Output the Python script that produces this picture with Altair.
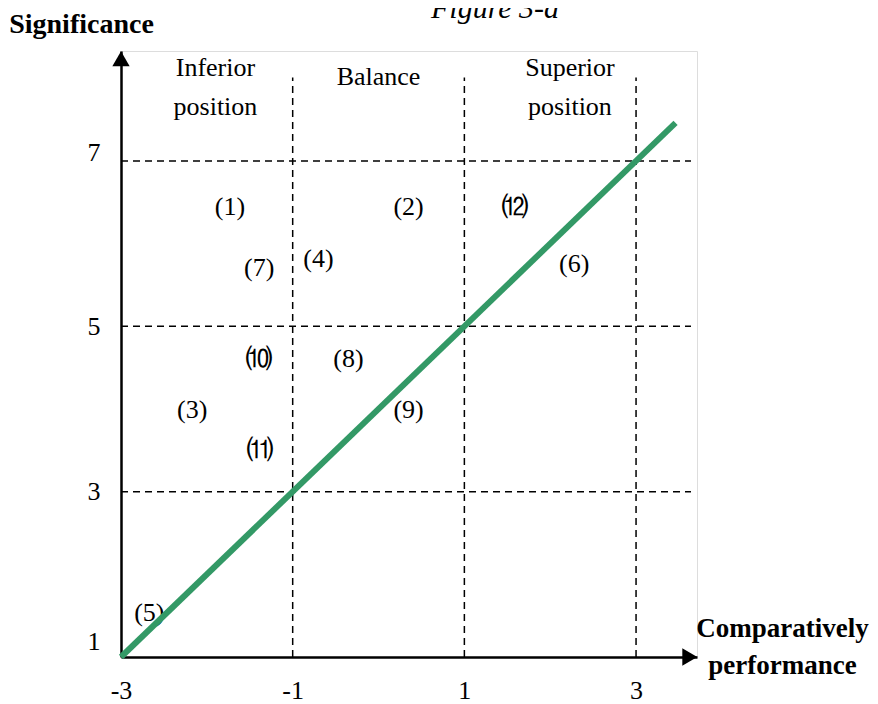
import altair as alt
import pandas as pd

# ---- data ----
point_labels = ["(1)", "(2)", "(3)", "(4)", "(5)", "(6)", "(7)", "(8)", "(9)", "⑽", "⑾", "⑿"]
point_x = [-1.73, 0.35, -2.17, -0.70, -2.67, 2.28, -1.39, -0.35, 0.35, -1.39, -1.38, 1.59]
point_y = [6.44, 6.44, 3.99, 5.82, 1.53, 5.75, 5.70, 4.60, 3.99, 4.60, 3.50, 6.44]

region_labels = ["Inferior\nposition", "Balance", "Superior\nposition"]
region_x = [-1.90, 0.0, 2.23]
region_y = [8.12, 8.01, 8.12]

h_grid_y = [3, 5, 7]
h_grid_x0 = [-3, -3, -3]
h_grid_x1 = [3.64, 3.64, 3.64]
v_grid_x = [-1, 1, 3]
v_grid_y0 = [1, 1, 1]
v_grid_y1 = [8.01, 8.01, 8.01]

diag_x = [-3, 3.46]
diag_y = [1, 7.46]

arrow_x = [3.626, -3.0]
arrow_y = [1.0, 8.237]
arrow_shape = ["triangle-right", "triangle-up"]

x_ticks = [-3, -1, 1, 3]
y_ticks = [1, 3, 5, 7]
x_domain = [-3, 3.71]
y_domain = [1, 8.33]

FONT = "Liberation Serif"

xs = alt.Scale(domain=x_domain, nice=False, zero=False)
ys = alt.Scale(domain=y_domain, nice=False, zero=False)

xaxis = alt.Axis(
    values=x_ticks, labelExpr="toString(datum.value)", ticks=False, grid=False,
    domainColor="black", domainWidth=2.5, labelColor="black", labelFont=FONT,
    labelFontSize=26, labelPadding=20, labelFlush=False, labelOverlap=False,
    title=["Comparatively", "performance"], titleAngle=0, titleX=661, titleY=-29,
    titleAlign="center", titleBaseline="middle", titleFont=FONT, titleFontSize=27,
    titleFontWeight="bold", titleColor="black", titleLineHeight=37,
)
yaxis = alt.Axis(
    values=y_ticks, labelExpr="toString(datum.value)", ticks=False, grid=False,
    domainColor="black", domainWidth=2.5, labelColor="black", labelFont=FONT,
    labelFontSize=26, labelPadding=21, labelFlush=False, labelOverlap=False,
    labelBaseline={"condition": {"test": "datum.value == 7", "value": "alphabetic"}, "value": "middle"},
    labelOffset={"condition": {"test": "datum.value == 1", "value": -16}, "value": 0},
    title="Significance", titleAngle=0, titleX=-40, titleY=-27,
    titleAlign="center", titleBaseline="middle", titleFont=FONT, titleFontSize=28,
    titleFontWeight="bold", titleColor="black",
)

def X(field="x"):
    return alt.X(f"{field}:Q", scale=xs, axis=xaxis)

def Y(field="y"):
    return alt.Y(f"{field}:Q", scale=ys, axis=yaxis)

hdf = pd.DataFrame({"y": h_grid_y, "x": h_grid_x0, "x2": h_grid_x1})
vdf = pd.DataFrame({"x": v_grid_x, "y": v_grid_y0, "y2": v_grid_y1})
ddf = pd.DataFrame({"x": diag_x, "y": diag_y})
pdf = pd.DataFrame({"x": point_x, "y": point_y, "t": point_labels})
rdf = pd.DataFrame({"x": region_x, "y": region_y, "t": region_labels})
adf = pd.DataFrame({"x": arrow_x, "y": arrow_y, "s": arrow_shape})
fig_df = pd.DataFrame({"t": ["Figure 3-a"]})

hgrid = alt.Chart(hdf).mark_rule(color="black", strokeWidth=1.5, strokeDash=[7, 5]).encode(
    x=X(), x2="x2:Q", y=Y())
vgrid = alt.Chart(vdf).mark_rule(color="black", strokeWidth=1.5, strokeDash=[7, 5]).encode(
    x=X(), y=Y(), y2="y2:Q")

pts = alt.Chart(pdf).mark_text(font=FONT, fontSize=26, color="black",
                               align="center", baseline="middle").encode(
    x=X(), y=Y(), text="t:N")

regs = alt.Chart(rdf).mark_text(font=FONT, fontSize=26, color="black", align="center",
                                baseline="middle", lineBreak="\n", lineHeight=39).encode(
    x=X(), y=Y(), text="t:N")

diag = alt.Chart(ddf).mark_line(color="#339966", strokeWidth=6).encode(x=X(), y=Y())

arrows = alt.Chart(adf).mark_point(filled=True, color="black", opacity=1, size=300).encode(
    x=X(), y=Y(), shape=alt.Shape("s:N", scale=None, legend=None))

fig = alt.Chart(fig_df).mark_text(font=FONT, fontSize=30, fontStyle="italic", color="black",
                                  align="center", baseline="alphabetic").encode(
    x=alt.value(374), y=alt.value(-33), text="t:N")

chart = alt.layer(hgrid, vgrid, pts, regs, diag, arrows, fig).properties(
    width=576, height=606,
    padding={"left": 113, "top": 43, "right": 173, "bottom": 46},
    autosize=alt.AutoSizeParams(type="none"),
).configure_view(stroke=None).configure(background="white")

chart.save("out.html", embed_options={"renderer": "svg", "actions": False})
